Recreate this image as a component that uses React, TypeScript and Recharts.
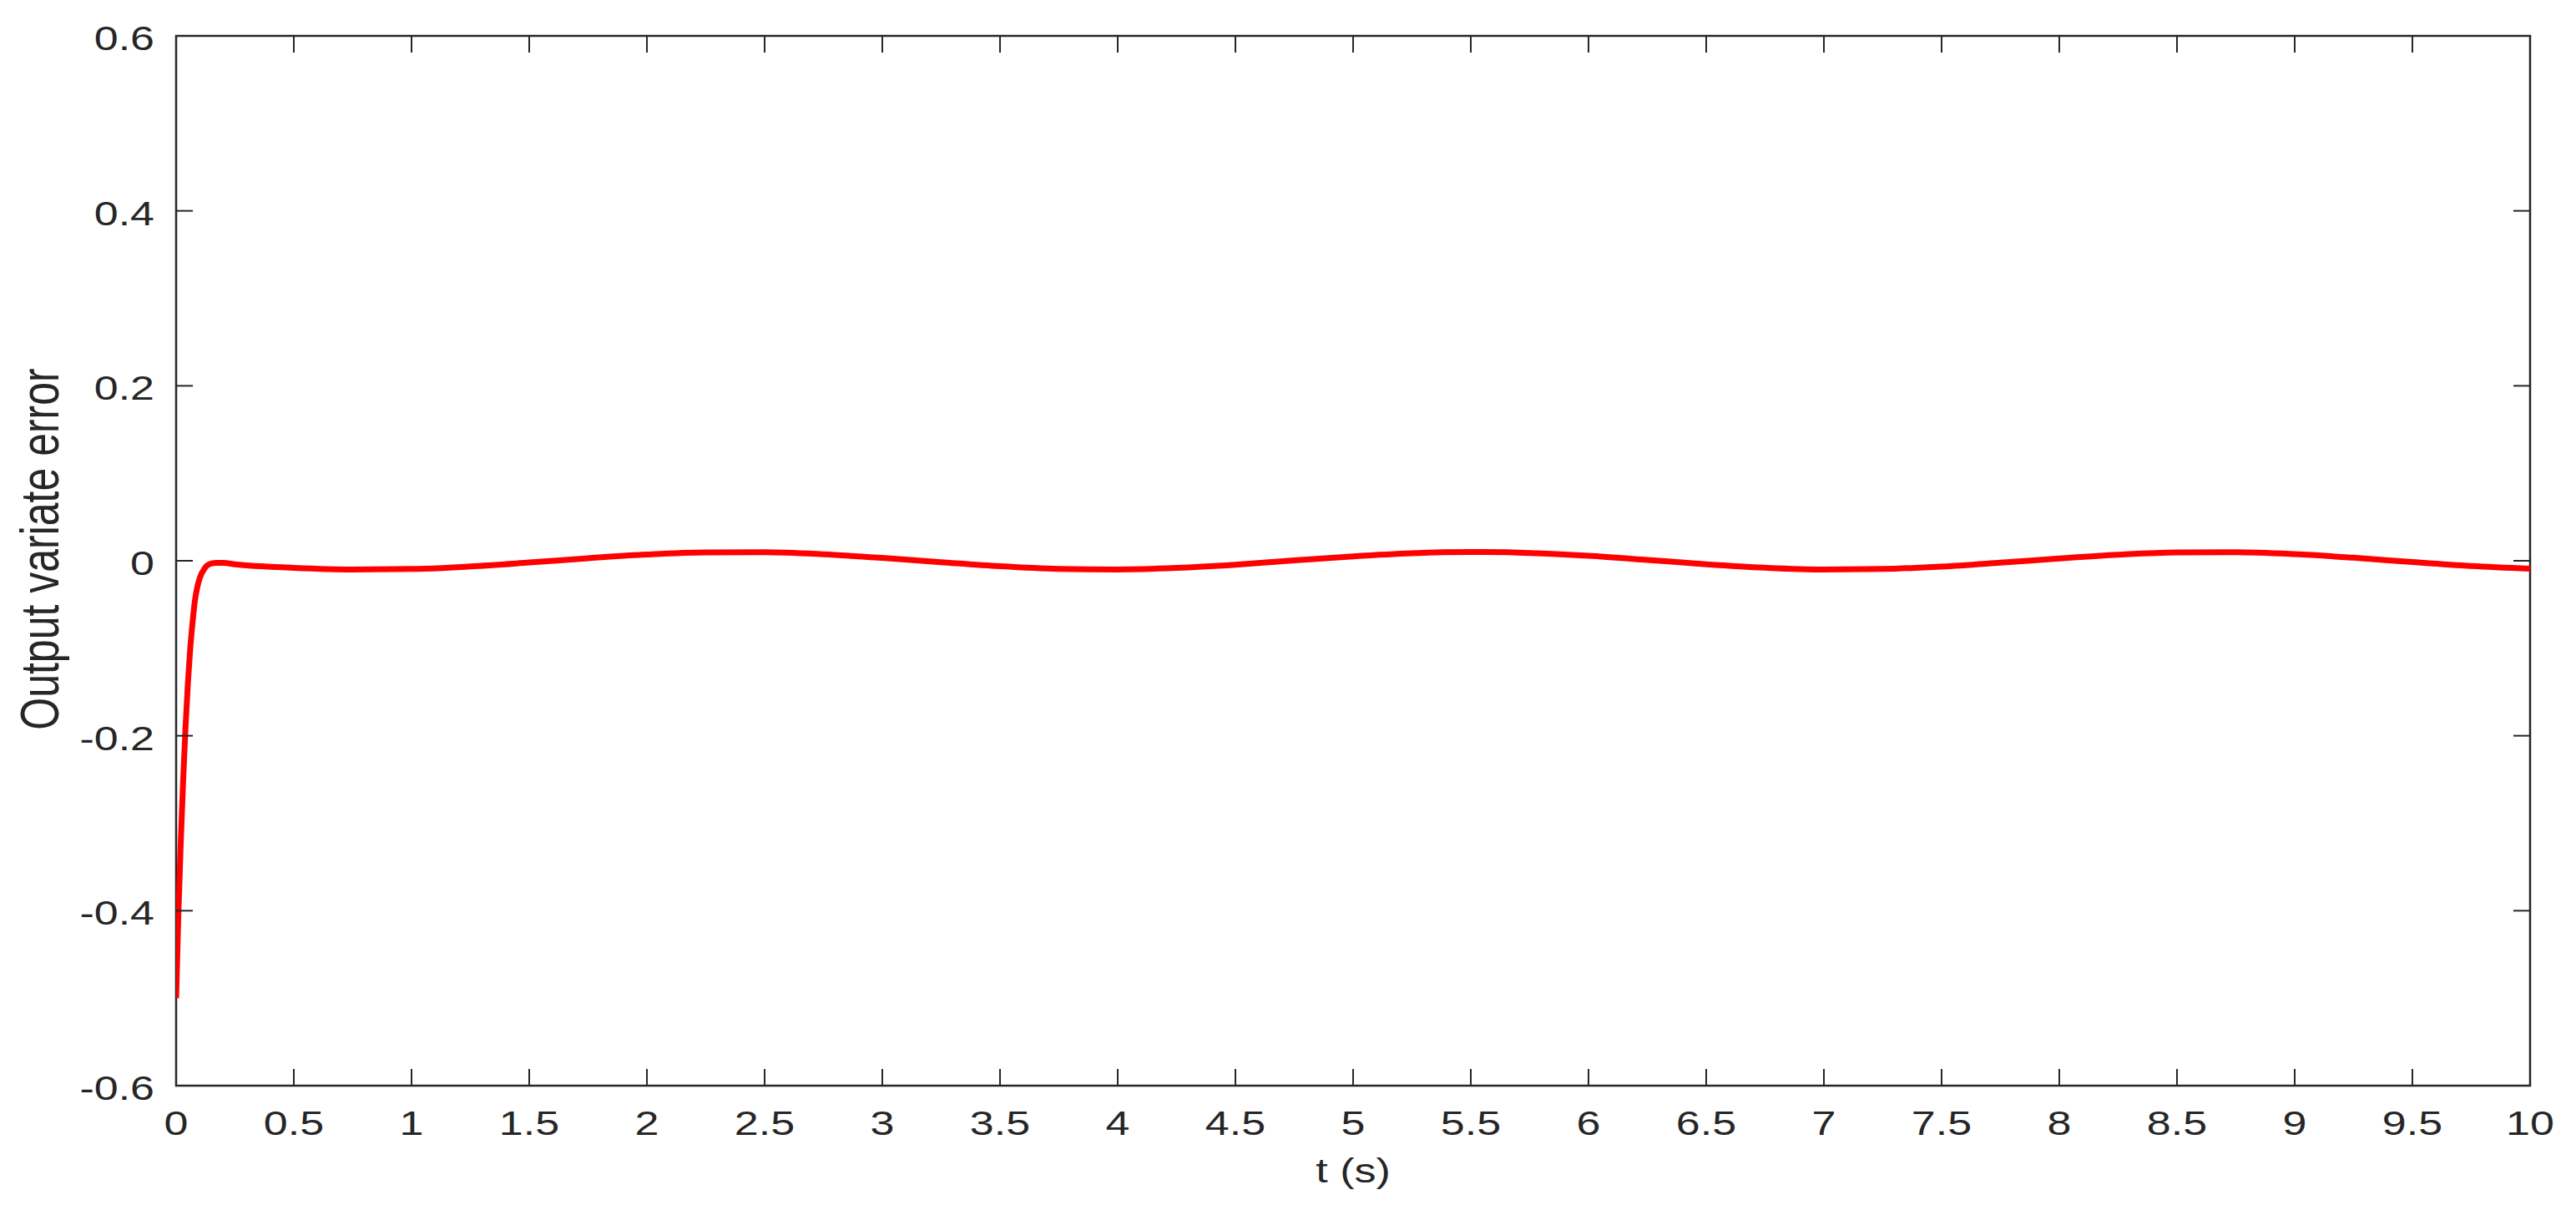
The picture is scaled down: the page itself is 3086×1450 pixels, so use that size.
import React from 'react';
import { LineChart, Line, XAxis, YAxis, ReferenceArea } from 'recharts';

// time samples (s)
const timeValues: number[] = [
  0, 0.005, 0.01, 0.02, 0.03, 0.04, 0.05, 0.06, 0.07, 0.08, 0.09, 0.1, 0.12, 0.14, 0.17, 0.2,
  0.25, 0.5, 0.75, 1.0, 1.25, 1.5, 1.75, 2.0, 2.25, 2.5, 2.75, 3.0, 3.25, 3.5, 3.75,
  4.0, 4.25, 4.5, 4.75, 5.0, 5.25, 5.5, 5.75, 6.0, 6.25, 6.5, 6.75, 7.0, 7.25, 7.5,
  7.75, 8.0, 8.25, 8.5, 8.75, 9.0, 9.25, 9.5, 9.75, 10.0,
];

// output variate error
const errorValues: number[] = [
  -0.5, -0.45, -0.4, -0.32, -0.25, -0.19, -0.14, -0.1, -0.07, -0.045, -0.03, -0.02, -0.009, -0.004, -0.0025, -0.0025,
  -0.0041, -0.008, -0.0099, -0.0094, -0.0065, -0.002, 0.0029, 0.0072, 0.0096, 0.0097, 0.0074, 0.0033, -0.0016, -0.0062, -0.0092,
  -0.01, -0.0082, -0.0045, 0.0004, 0.0051, 0.0086, 0.01, 0.0089, 0.0057, 0.001, -0.004, -0.0079, -0.0099, -0.0094, -0.0067,
  -0.0022, 0.0027, 0.007, 0.0096, 0.0098, 0.0076, 0.0035, -0.0015, -0.006, -0.0091,
];

const xTicks: number[] = [0, 0.5, 1, 1.5, 2, 2.5, 3, 3.5, 4, 4.5, 5, 5.5, 6, 6.5, 7, 7.5, 8, 8.5, 9, 9.5, 10];
const yTicks: number[] = [-0.6, -0.4, -0.2, 0, 0.2, 0.4, 0.6];

const X_TITLE = 't (s)';
const Y_TITLE = 'Output variate error';

const data = timeValues.map((t, i) => ({ t, e: errorValues[i] }));

const W = 3086;
const H = 1450;
const PLOT_LEFT = 211;
const PLOT_RIGHT = 3031;
const PLOT_TOP = 43;
const PLOT_BOTTOM = 1301;
const TICK_LEN = 20;

const AXIS_COLOR = '#262626';
const FONT = '"Liberation Sans", Arial, Helvetica, sans-serif';
const STRETCH = 1.3;

const fmt = (v: number) => String(Math.round(v * 10) / 10);

const XTick = (props: any) => {
  const { x, payload } = props;
  const ty = PLOT_BOTTOM + 59;
  return (
    <g>
      <line x1={x} x2={x} y1={PLOT_BOTTOM} y2={PLOT_BOTTOM - TICK_LEN} stroke={AXIS_COLOR} strokeWidth={2} />
      <line x1={x} x2={x} y1={PLOT_TOP} y2={PLOT_TOP + TICK_LEN} stroke={AXIS_COLOR} strokeWidth={2} />
      <text
        x={x}
        y={ty}
        transform={`translate(${x} ${ty}) scale(${STRETCH} 1) translate(${-x} ${-ty})`}
        textAnchor="middle"
        fontFamily={FONT}
        fontSize={40}
        fill={AXIS_COLOR}
      >
        {fmt(payload.value)}
      </text>
    </g>
  );
};

const YTick = (props: any) => {
  const { y, payload } = props;
  const tx = PLOT_LEFT - 26;
  const ty = y + 17;
  return (
    <g>
      <line x1={PLOT_LEFT} x2={PLOT_LEFT + TICK_LEN} y1={y} y2={y} stroke={AXIS_COLOR} strokeWidth={2} />
      <line x1={PLOT_RIGHT} x2={PLOT_RIGHT - TICK_LEN} y1={y} y2={y} stroke={AXIS_COLOR} strokeWidth={2} />
      <text
        x={tx}
        y={ty}
        transform={`translate(${tx} ${ty}) scale(${STRETCH} 1) translate(${-tx} ${-ty})`}
        textAnchor="end"
        fontFamily={FONT}
        fontSize={40}
        fill={AXIS_COLOR}
      >
        {fmt(payload.value)}
      </text>
    </g>
  );
};

export default function App() {
  const cx = (PLOT_LEFT + PLOT_RIGHT) / 2;
  const cy = 658;
  return (
    <div style={{ position: 'absolute', left: 0, top: 0, width: W, height: H, background: '#fff' }}>
      <LineChart
        width={W}
        height={H}
        data={data}
        margin={{ top: PLOT_TOP, right: W - PLOT_RIGHT, bottom: 0, left: 0 }}
      >
        <XAxis
          xAxisId="x"
          dataKey="t"
          type="number"
          domain={[0, 10]}
          ticks={xTicks}
          allowDataOverflow
          height={H - PLOT_BOTTOM}
          tickSize={0}
          tickMargin={0}
          tickLine={false}
          axisLine={false}
          tick={<XTick />}
          interval={0}
        />
        <YAxis
          yAxisId="y"
          type="number"
          domain={[-0.6, 0.6]}
          ticks={yTicks}
          allowDataOverflow
          width={PLOT_LEFT}
          tickSize={0}
          tickMargin={0}
          tickLine={false}
          axisLine={false}
          tick={<YTick />}
          interval={0}
        />
        <ReferenceArea
          xAxisId="x"
          yAxisId="y"
          x1={0}
          x2={10}
          y1={-0.6}
          y2={0.6}
          fill="none"
          fillOpacity={0}
          stroke={AXIS_COLOR}
          strokeWidth={2.5}
          ifOverflow="visible"
        />
        <Line
          xAxisId="x"
          yAxisId="y"
          dataKey="e"
          type="monotone"
          stroke="#ff0000"
          strokeWidth={7}
          dot={false}
          activeDot={false}
          isAnimationActive={false}
        />
        <text
          x={cx}
          y={1417}
          transform={`translate(${cx} 1417) scale(${STRETCH} 1) translate(${-cx} -1417)`}
          textAnchor="middle"
          fontFamily={FONT}
          fontSize={40}
          fill={AXIS_COLOR}
        >
          {X_TITLE}
        </text>
        <text
          x={0}
          y={0}
          transform={`translate(70 ${cy}) scale(${STRETCH} 1) rotate(-90)`}
          textAnchor="middle"
          fontFamily={FONT}
          fontSize={50}
          fill={AXIS_COLOR}
        >
          {Y_TITLE}
        </text>
      </LineChart>
    </div>
  );
}
